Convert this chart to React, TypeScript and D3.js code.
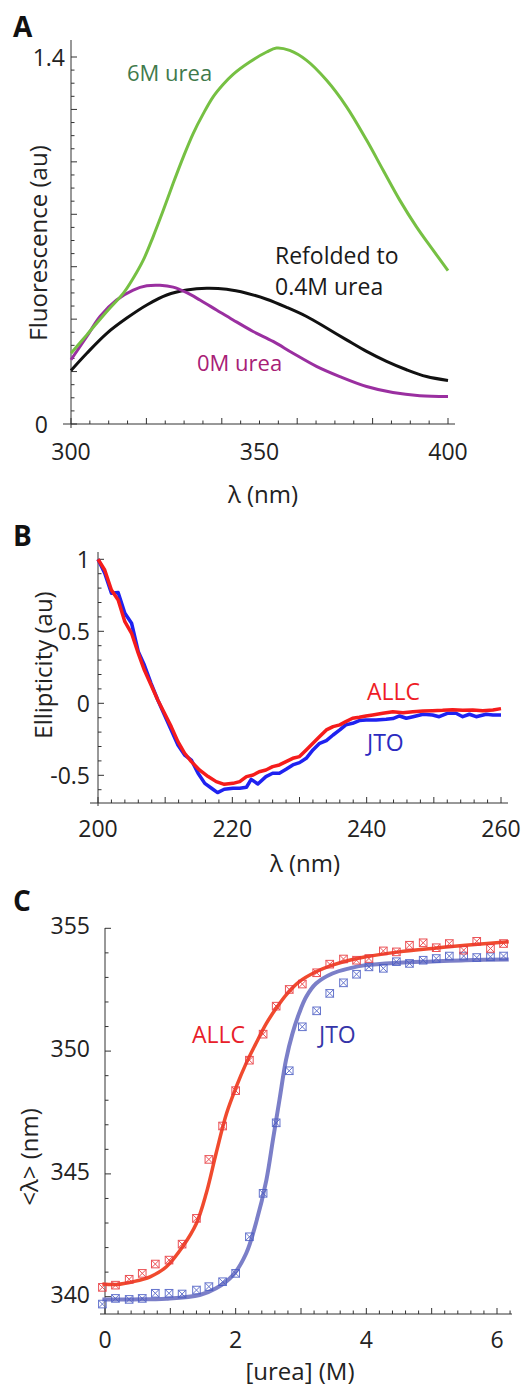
import React from 'react';
import * as d3 from 'd3';

const FONT = "'Open Sans', 'Noto Sans', sans-serif";

// ---- Panel A: fluorescence spectra ----
const lambdaGreen = [300, 304.2, 309.5, 313.9, 316.5, 319.2, 321.8, 324.5, 327.1, 329.8, 332.4, 335.1, 337.7, 340.4, 343, 347.4, 351.9, 354.5, 358, 362.5, 367.8, 373.1, 378.4, 382.8, 387.2, 391.6, 396, 400];
const urea6M = [0.27, 0.34, 0.429, 0.499, 0.556, 0.626, 0.715, 0.816, 0.918, 1.019, 1.108, 1.184, 1.248, 1.296, 1.334, 1.381, 1.419, 1.434, 1.425, 1.387, 1.311, 1.21, 1.083, 0.968, 0.854, 0.753, 0.664, 0.585];
const lambdaPurple = [300, 304.2, 307.7, 312.1, 316.5, 320.1, 323.6, 327.1, 330.7, 334.2, 338.6, 343, 348.3, 353.6, 358.9, 365.1, 371.3, 378.4, 385.4, 392.5, 400];
const urea0M = [0.245, 0.334, 0.41, 0.473, 0.511, 0.527, 0.529, 0.522, 0.501, 0.473, 0.435, 0.397, 0.353, 0.315, 0.27, 0.22, 0.181, 0.143, 0.12, 0.108, 0.105];
const lambdaBlack = [300, 304.2, 309.5, 314.8, 320.1, 325.4, 330.7, 336, 341.3, 346.6, 351.9, 357.2, 362.5, 367.8, 373.1, 378.4, 383.7, 389, 394.3, 400];
const refolded = [0.204, 0.27, 0.346, 0.404, 0.454, 0.492, 0.511, 0.518, 0.514, 0.499, 0.476, 0.445, 0.41, 0.366, 0.321, 0.277, 0.239, 0.207, 0.181, 0.166];
const aXLabels = [300, 350, 400];
const aYLabels = ['0', '1.4'];

// ---- Panel B: CD spectra ----
const lambdaAllc = [200, 201, 202, 203, 204, 205, 206, 206.9, 207.9, 208.9, 209.9, 210.9, 211.9, 212.9, 213.9, 215.1, 216.4, 217.6, 218.8, 220.1, 221.1, 222.1, 223.1, 224, 225, 226, 227, 228, 229, 230, 231, 232, 233, 234, 235, 236, 236.9, 237.9, 238.9, 239.9, 240.9, 242.4, 243.9, 245.4, 246.9, 248.4, 249.8, 251.3, 252.8, 254.3, 255.8, 257.3, 258.8, 260];
const allcCD = [1.0, 0.926, 0.787, 0.718, 0.567, 0.486, 0.347, 0.231, 0.127, 0.023, -0.069, -0.162, -0.266, -0.347, -0.405, -0.463, -0.509, -0.544, -0.5625, -0.556, -0.544, -0.509, -0.498, -0.475, -0.463, -0.44, -0.428, -0.405, -0.382, -0.37, -0.324, -0.278, -0.231, -0.185, -0.162, -0.15, -0.127, -0.104, -0.097, -0.088, -0.081, -0.069, -0.058, -0.065, -0.058, -0.053, -0.051, -0.049, -0.044, -0.049, -0.046, -0.051, -0.046, -0.037];
const lambdaJto = [200, 201, 202, 203, 204, 205, 206, 206.9, 207.9, 208.9, 209.9, 210.9, 211.9, 212.9, 213.9, 214.9, 215.9, 216.9, 217.8, 218.8, 220.1, 221.1, 222.1, 222.8, 223.8, 225, 226, 227, 228, 229, 230, 231, 232, 233, 234, 235, 236, 236.9, 237.9, 238.9, 239.9, 241.4, 242.9, 243.9, 244.9, 245.9, 246.9, 248.4, 249.8, 250.8, 252.1, 253.3, 254.3, 255.3, 256.3, 257.8, 258.8, 260];
const jtoCD = [1.0, 0.903, 0.764, 0.769, 0.625, 0.556, 0.359, 0.266, 0.139, 0.023, -0.081, -0.185, -0.289, -0.359, -0.394, -0.486, -0.556, -0.59, -0.62, -0.597, -0.59, -0.59, -0.583, -0.528, -0.56, -0.509, -0.486, -0.486, -0.458, -0.428, -0.412, -0.382, -0.324, -0.278, -0.259, -0.22, -0.185, -0.15, -0.139, -0.12, -0.116, -0.116, -0.111, -0.106, -0.088, -0.104, -0.093, -0.076, -0.081, -0.093, -0.069, -0.069, -0.093, -0.076, -0.093, -0.076, -0.081, -0.081];
const bXLabels = [200, 220, 240, 260];
const bYLabels = ['1', '0.5', '0', '-0.5'];

// ---- Panel C: urea denaturation ----
const ureaConc = [-0.04, 0.16, 0.37, 0.57, 0.77, 0.98, 1.18, 1.4, 1.59, 1.8, 2.0, 2.21, 2.42, 2.62, 2.82, 3.02, 3.24, 3.44, 3.65, 3.85, 4.04, 4.26, 4.46, 4.66, 4.87, 5.07, 5.27, 5.49, 5.69, 5.9, 6.1];
const allcMean = [340.38, 340.47, 340.71, 340.95, 341.33, 341.49, 342.14, 343.19, 345.59, 346.95, 348.39, 349.63, 350.69, 351.83, 352.51, 352.73, 353.19, 353.54, 353.75, 353.7, 353.77, 354.08, 354.04, 354.31, 354.41, 354.21, 354.38, 354.11, 354.47, 354.18, 354.38];
const jtoMean = [339.7, 339.93, 339.89, 339.93, 340.14, 340.14, 340.11, 340.27, 340.41, 340.61, 340.95, 342.44, 344.21, 347.08, 349.2, 350.99, 351.64, 352.35, 352.78, 353.13, 353.43, 353.37, 353.64, 353.57, 353.7, 353.77, 353.87, 353.87, 353.81, 353.84, 353.87];
const allcFitX = [-0.04, 0.18, 0.43, 0.69, 0.94, 1.19, 1.4, 1.55, 1.7, 1.86, 2.01, 2.16, 2.31, 2.47, 2.62, 2.77, 2.97, 3.23, 3.48, 3.74, 3.99, 4.5, 5.01, 5.52, 6.18];
const allcFit = [340.52, 340.5, 340.61, 340.81, 341.22, 342.04, 342.99, 344.21, 345.83, 347.46, 348.55, 349.5, 350.31, 351.13, 351.74, 352.28, 352.82, 353.23, 353.5, 353.7, 353.84, 354.04, 354.18, 354.31, 354.45];
const jtoFitX = [-0.04, 0.43, 0.94, 1.45, 1.7, 1.96, 2.16, 2.31, 2.47, 2.57, 2.67, 2.77, 2.87, 2.97, 3.08, 3.23, 3.48, 3.74, 3.99, 4.5, 5.01, 5.52, 6.18];
const jtoFit = [339.89, 339.89, 339.92, 340.07, 340.34, 340.88, 341.76, 342.99, 344.75, 346.38, 348.01, 349.63, 350.72, 351.53, 352.21, 352.75, 353.16, 353.37, 353.5, 353.6, 353.65, 353.7, 353.73];
const cXLabels = [0, 2, 4, 6];
const cYLabels = [340, 345, 350, 355];

type Scale = d3.ScaleLinear<number, number>;

const pts = (xs: number[], ys: number[]) => xs.map((x, i) => [x, ys[i]] as [number, number]);

function Axes({ x, y, xTicks, yTicks, xMajor, yMajor, xFrom, xTo, yFrom, yTo, x0, y0 }: any) {
  return (
    <g stroke="#333" strokeWidth={1} fill="none">
      <line x1={xFrom} x2={xTo} y1={y0} y2={y0} />
      <line x1={x0} x2={x0} y1={yFrom} y2={yTo} />
      {xTicks.map((t: number, i: number) => (
        <line key={'x' + i} x1={x(t)} x2={x(t)} y1={y0} y2={y0 - (xMajor(t) ? 6 : 3.5)} />
      ))}
      {yTicks.map((t: number, i: number) => (
        <line key={'y' + i} x1={x0} x2={x0 + (yMajor(t) ? 6 : 3.5)} y1={y(t)} y2={y(t)} />
      ))}
    </g>
  );
}

const near = (v: number, step: number) => Math.abs(v / step - Math.round(v / step)) < 1e-6;

export default function App() {
  // Panel A scales
  const ax: Scale = d3.scaleLinear().domain([300, 400]).range([71, 448]);
  const ay: Scale = d3.scaleLinear().domain([0, 1.4]).range([424, 57]);
  const aLine = d3.line<[number, number]>().x(d => ax(d[0])).y(d => ay(d[1])).curve(d3.curveCatmullRom);

  // Panel B scales
  const bx: Scale = d3.scaleLinear().domain([200, 260]).range([98, 501]);
  const by: Scale = d3.scaleLinear().domain([-0.5, 1]).range([775.3, 559.3]);
  const bLine = d3.line<[number, number]>().x(d => bx(d[0])).y(d => by(d[1]));

  // Panel C scales
  const cx: Scale = d3.scaleLinear().domain([0, 6]).range([105, 497]);
  const cy: Scale = d3.scaleLinear().domain([340, 355]).range([1296.7, 928.3]);
  const cLine = d3.line<[number, number]>().x(d => cx(d[0])).y(d => cy(d[1])).curve(d3.curveCatmullRom);

  const tickTxt = { fontFamily: FONT, fontSize: 23, fill: '#222' } as const;
  const lblTxt = { fontFamily: FONT, fontSize: 24, fill: '#222' } as const;
  const letter = { fontFamily: FONT, fontWeight: 'bold', fontSize: 28, fill: '#111' } as const;

  const marker = (px: number, py: number, color: string, key: string) => (
    <g key={key} stroke={color} strokeWidth={1} fill="none" opacity={0.85}>
      <rect x={px - 3.8} y={py - 3.8} width={7.6} height={7.6} />
      <line x1={px - 3.8} y1={py - 3.8} x2={px + 3.8} y2={py + 3.8} />
      <line x1={px - 3.8} y1={py + 3.8} x2={px + 3.8} y2={py - 3.8} />
    </g>
  );

  return (
    <svg width={525} height={1385} style={{ position: 'absolute', left: 0, top: 0, background: '#fff' }}>
      <rect width={525} height={1385} fill="#fff" />

      {/* ---------- Panel A ---------- */}
      <text x={13} y={37} {...letter}>A</text>
      <Axes x={ax} y={ay}
        xTicks={d3.range(300, 401, 5)} yTicks={d3.range(0, 1.401, 0.05)}
        xMajor={(t: number) => near(t - 300, 20)} yMajor={(t: number) => near(t, 0.2)}
        xFrom={63} xTo={455} yFrom={428} yTo={40} x0={71} y0={424} />
      {aXLabels.map(t => (
        <text key={t} x={ax(t)} y={451} textAnchor="middle" dominantBaseline="central" {...tickTxt}>{t}</text>
      ))}
      <text x={65} y={ay(1.4)} textAnchor="end" dominantBaseline="central" {...tickTxt}>{aYLabels[1]}</text>
      <text x={48} y={ay(0)} textAnchor="end" dominantBaseline="central" {...tickTxt}>{aYLabels[0]}</text>
      <text x={263} y={493} textAnchor="middle" dominantBaseline="central" {...lblTxt}>λ (nm)</text>
      <text transform="translate(37,243) rotate(-90)" textAnchor="middle" dominantBaseline="central" {...lblTxt}>Fluorescence (au)</text>
      <path d={aLine(pts(lambdaBlack, refolded)) || ''} fill="none" stroke="#111" strokeWidth={3} />
      <path d={aLine(pts(lambdaPurple, urea0M)) || ''} fill="none" stroke="#9a2fa0" strokeWidth={3} />
      <path d={aLine(pts(lambdaGreen, urea6M)) || ''} fill="none" stroke="#76c043" strokeWidth={3} />
      <text x={127} y={72} dominantBaseline="central" fontFamily={FONT} fontSize={22} fill="#3f7a4c">6M urea</text>
      <text x={275} y={255} dominantBaseline="central" fontFamily={FONT} fontSize={23} fill="#1a1a1a">Refolded to</text>
      <text x={275} y={286} dominantBaseline="central" fontFamily={FONT} fontSize={23} fill="#1a1a1a">0.4M urea</text>
      <text x={197} y={362} dominantBaseline="central" fontFamily={FONT} fontSize={22} fill="#a82076">0M urea</text>

      {/* ---------- Panel B ---------- */}
      <text x={13} y={546} {...letter}>B</text>
      <Axes x={bx} y={by}
        xTicks={d3.range(200, 261, 2)} yTicks={d3.range(-0.6, 1.001, 0.1)}
        xMajor={(t: number) => near(t, 10)} yMajor={(t: number) => near(t, 0.5)}
        xFrom={90} xTo={508} yFrom={806} yTo={552} x0={98} y0={803} />
      {bXLabels.map(t => (
        <text key={t} x={bx(t)} y={828} textAnchor="middle" dominantBaseline="central" {...tickTxt}>{t}</text>
      ))}
      {bYLabels.map(t => (
        <text key={t} x={90} y={by(parseFloat(t))} textAnchor="end" dominantBaseline="central" {...tickTxt}>{t}</text>
      ))}
      <text x={305} y={862} textAnchor="middle" dominantBaseline="central" {...lblTxt}>λ (nm)</text>
      <text transform="translate(42,665) rotate(-90)" textAnchor="middle" dominantBaseline="central" {...lblTxt}>Ellipticity (au)</text>
      <path d={bLine(pts(lambdaJto, jtoCD)) || ''} fill="none" stroke="#1f22f0" strokeWidth={3.5} strokeLinejoin="round" />
      <path d={bLine(pts(lambdaAllc, allcCD)) || ''} fill="none" stroke="#f51c1c" strokeWidth={3.5} strokeLinejoin="round" />
      <text x={367} y={691} dominantBaseline="central" fontFamily={FONT} fontSize={23} fill="#ee1c26">ALLC</text>
      <text x={367} y={742} dominantBaseline="central" fontFamily={FONT} fontSize={23} fill="#2b2bc0">JTO</text>

      {/* ---------- Panel C ---------- */}
      <text x={13} y={911} {...letter}>C</text>
      <Axes x={cx} y={cy}
        xTicks={d3.range(0, 6.21, 0.2)} yTicks={d3.range(340, 355.01, 1)}
        xMajor={(t: number) => near(t, 1)} yMajor={(t: number) => near(t, 5)}
        xFrom={100} xTo={512} yFrom={1314} yTo={928} x0={105} y0={1314} />
      {cXLabels.map(t => (
        <text key={t} x={cx(t)} y={1339} textAnchor="middle" dominantBaseline="central" {...tickTxt}>{t}</text>
      ))}
      {cYLabels.map(t => (
        <text key={t} x={90} y={cy(t) - 3} textAnchor="end" dominantBaseline="central" {...tickTxt}>{t}</text>
      ))}
      <text x={300} y={1370} textAnchor="middle" dominantBaseline="central" {...lblTxt}>[urea] (M)</text>
      <text transform="translate(28,1157) rotate(-90)" textAnchor="middle" dominantBaseline="central" {...lblTxt}>{'<λ> (nm)'}</text>
      <path d={cLine(pts(jtoFitX, jtoFit)) || ''} fill="none" stroke="#7b7fc8" strokeWidth={4} />
      <path d={cLine(pts(allcFitX, allcFit)) || ''} fill="none" stroke="#f04a2e" strokeWidth={3.5} />
      {ureaConc.map((u, i) => marker(cx(u), cy(jtoMean[i]), '#4a5cc4', 'j' + i))}
      {ureaConc.map((u, i) => marker(cx(u), cy(allcMean[i]), '#e8353a', 'a' + i))}
      <text x={192} y={1034} dominantBaseline="central" fontFamily={FONT} fontSize={23} fill="#e8202a">ALLC</text>
      <text x={319} y={1034} dominantBaseline="central" fontFamily={FONT} fontSize={23} fill="#3535a8">JTO</text>
    </svg>
  );
}
